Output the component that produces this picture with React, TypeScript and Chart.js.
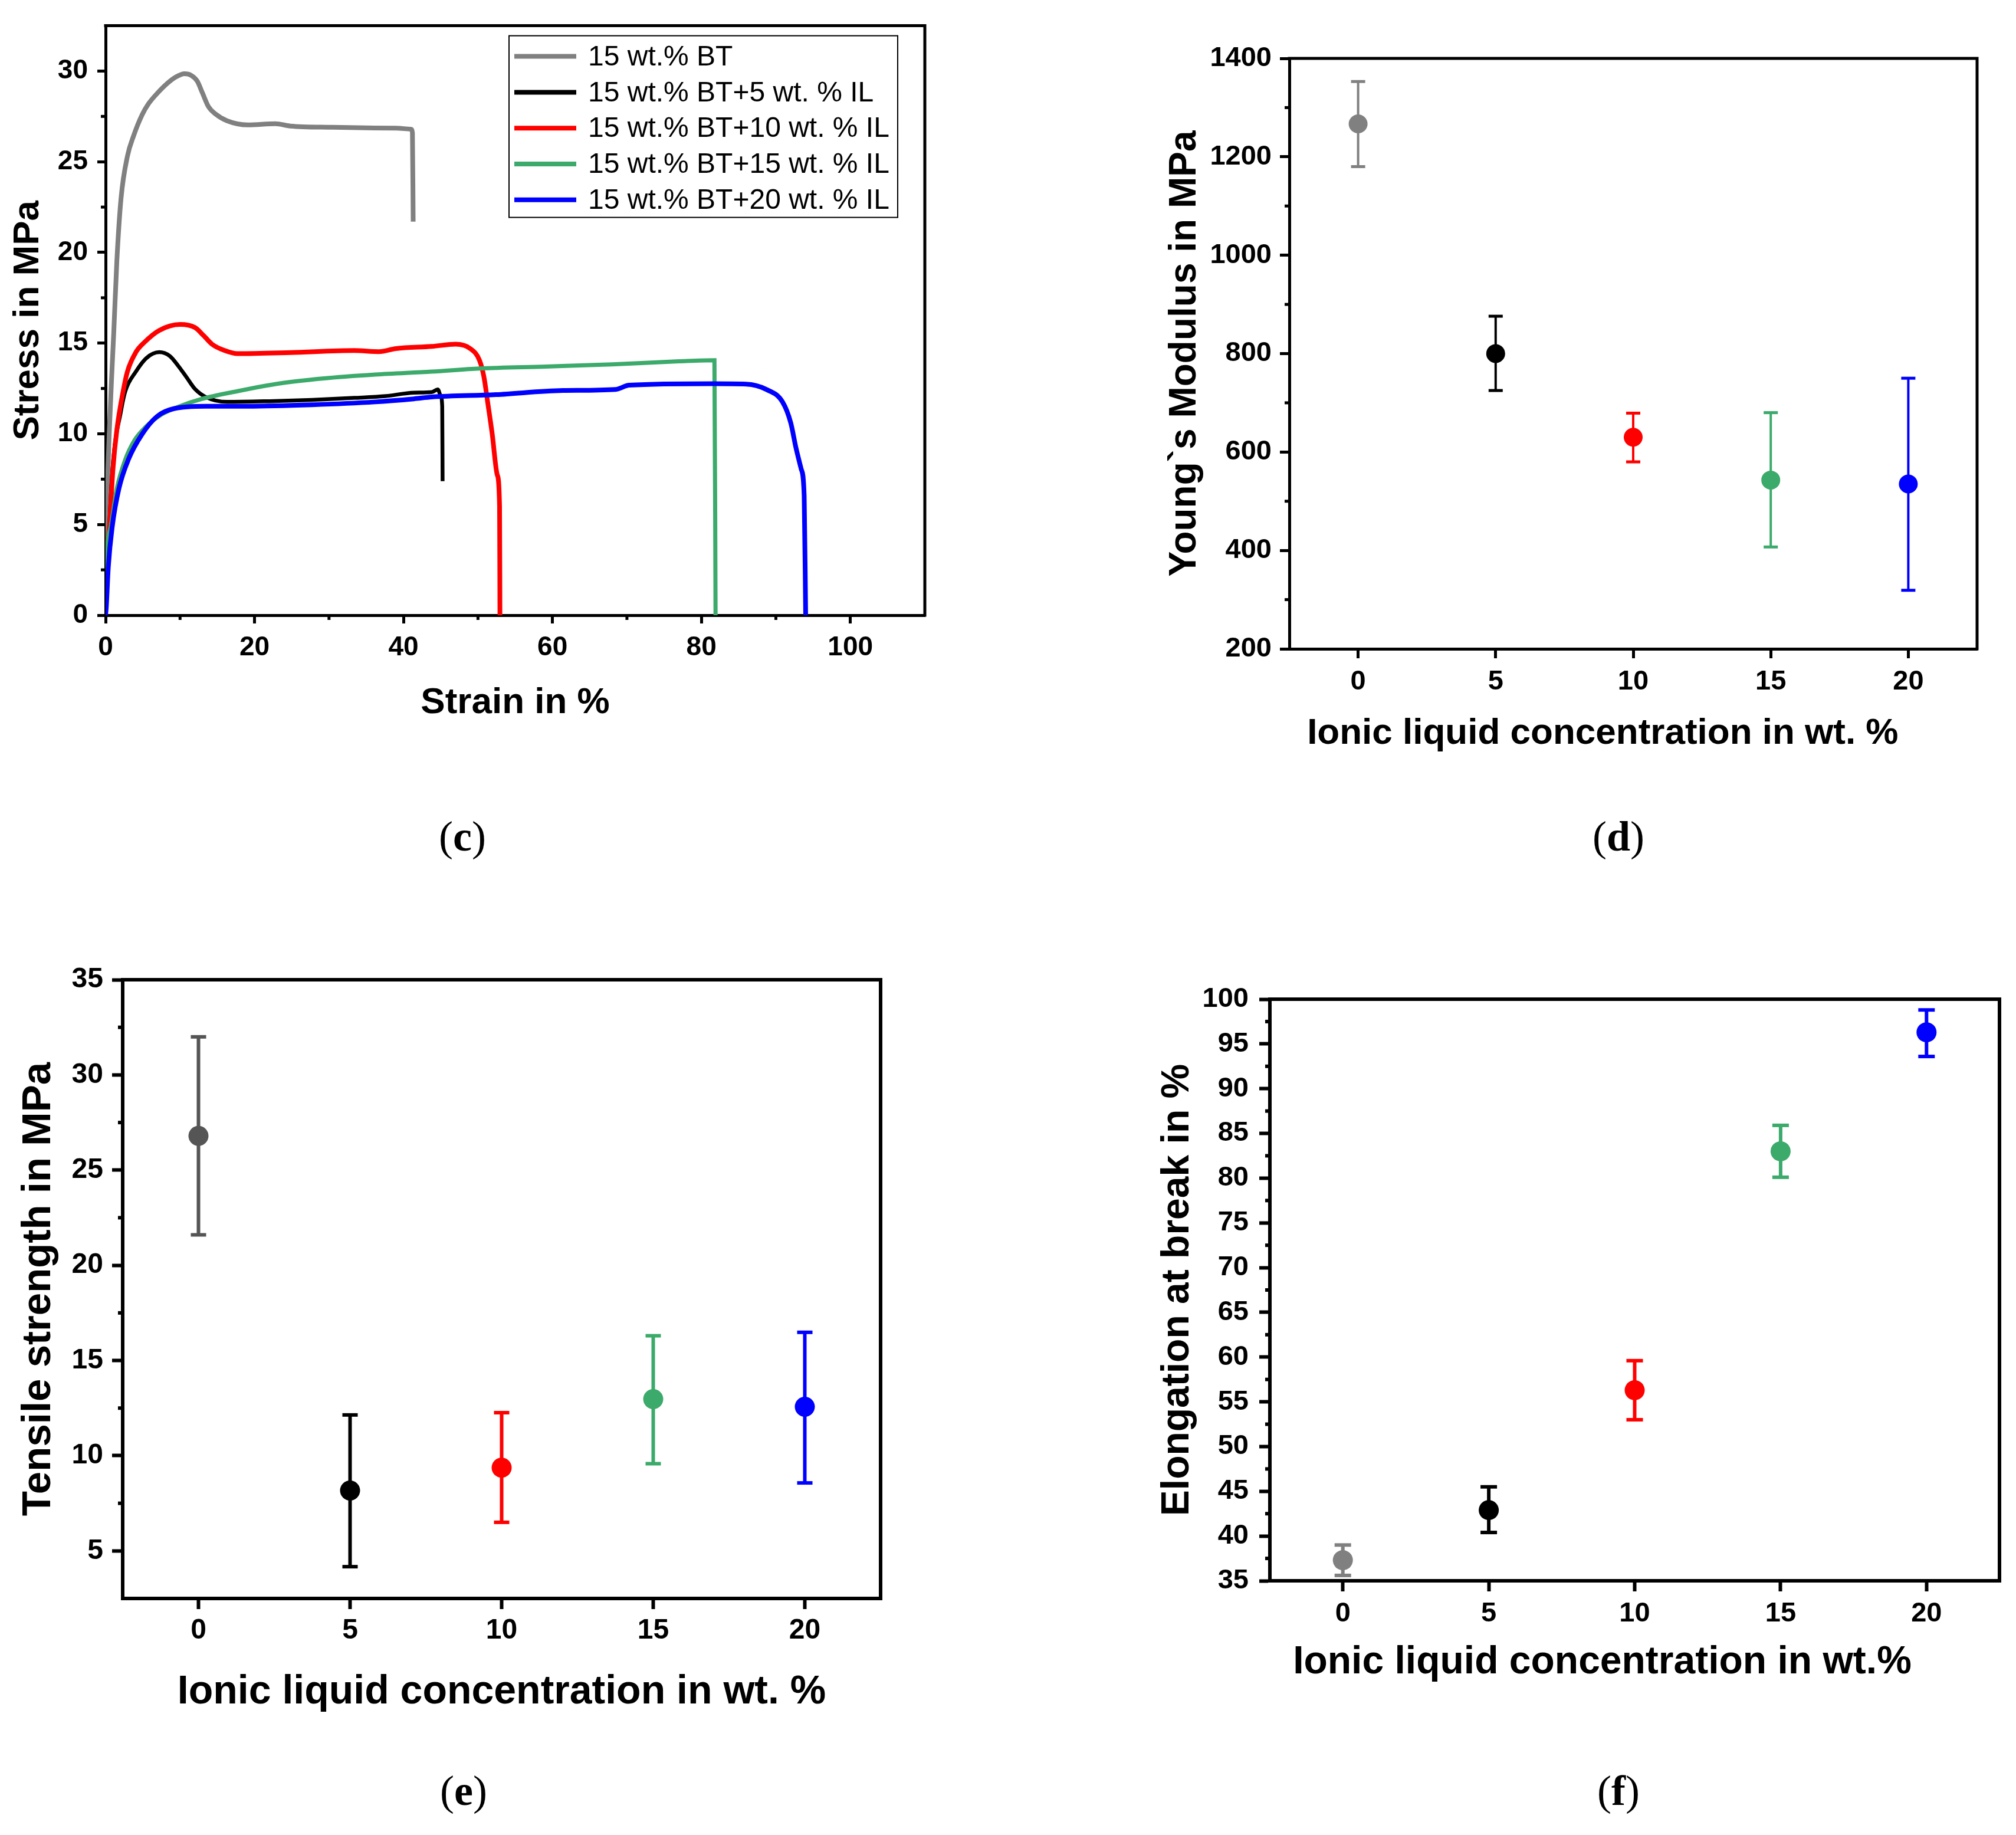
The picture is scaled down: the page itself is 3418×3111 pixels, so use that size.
import { useEffect, useRef } from 'react';
import Chart from 'chart.js/auto';

const SANS = "'Liberation Sans', Arial, sans-serif";
const SERIF = "'Liberation Serif', 'DejaVu Serif', serif";

// (c) stress-strain curves
const STRAIN_BT = [0, 0.09, 0.23, 0.51, 0.8, 1.1, 1.51, 2.08, 2.93, 3.78, 4.92, 5.77, 6.91, 8.34, 9.47, 10.6, 11.5, 12.3, 13.0, 13.8, 14.8, 16.3, 19.1, 22.8, 24.8, 30.5, 35, 39.0, 41.0, 41.2, 41.3];
const STRESS_BT = [0, 4.8, 7.0, 10.2, 13.0, 15.6, 19.5, 23.0, 25.3, 26.45, 27.6, 28.2, 28.76, 29.34, 29.68, 29.85, 29.76, 29.45, 28.8, 28.05, 27.62, 27.26, 27.03, 27.1, 26.97, 26.9, 26.87, 26.85, 26.8, 26.6, 21.7];
const STRAIN_IL5 = [0, 0.4, 0.92, 2.08, 2.65, 4.07, 5.49, 7.2, 8.62, 9.75, 10.9, 12.03, 13.45, 16.3, 22.0, 27.7, 33.4, 37.6, 41.4, 43.8, 44.6, 45.0, 45.2, 45.25];
const STRESS_IL5 = [0, 4.0, 8.06, 11.28, 12.35, 13.43, 14.18, 14.5, 14.29, 13.75, 13.1, 12.46, 12.03, 11.76, 11.8, 11.87, 11.98, 12.08, 12.27, 12.3, 12.45, 12.1, 11.5, 7.39];
const STRAIN_IL10 = [0, 0.05, 0.51, 0.99, 1.51, 2.36, 2.93, 4.07, 5.2, 7.2, 10.0, 12.0, 13.2, 14.3, 16.0, 17.7, 24.8, 33.4, 36.7, 39.0, 43.8, 47.0, 49.0, 50.2, 50.8, 51.3, 51.9, 52.6, 52.9, 52.95];
const STRESS_IL10 = [0, 1.9, 4.84, 8.06, 10.2, 12.35, 13.43, 14.5, 15.04, 15.7, 16.03, 15.86, 15.4, 14.94, 14.59, 14.42, 14.48, 14.59, 14.53, 14.7, 14.82, 14.94, 14.69, 14.06, 13.14, 11.75, 10.03, 7.72, 6.0, 0];
const STRAIN_IL15 = [0, 0.06, 0.66, 1.51, 2.65, 3.93, 5.49, 7.48, 9.75, 12.9, 17.7, 23.4, 29.1, 36.2, 43.8, 50.2, 59.1, 68.0, 77.0, 81.75, 81.9];
const STRESS_IL15 = [0, 2.26, 4.84, 6.98, 8.59, 9.67, 10.42, 11.06, 11.49, 11.92, 12.35, 12.78, 13.05, 13.27, 13.43, 13.6, 13.71, 13.83, 14.0, 14.06, 0];
const STRAIN_IL20 = [0, 0.1, 0.37, 0.88, 1.79, 3.07, 4.92, 6.91, 9.19, 13.45, 19.1, 27.7, 36.2, 41.4, 43.8, 52.4, 61.4, 68.5, 70.3, 81.5, 86.0, 88.7, 90.9, 92.0, 92.7, 93.4, 93.8, 94.0];
const STRESS_IL20 = [0, 0.5, 2.68, 4.84, 6.98, 8.59, 9.99, 10.96, 11.39, 11.52, 11.52, 11.6, 11.76, 11.93, 12.03, 12.16, 12.39, 12.45, 12.68, 12.76, 12.74, 12.45, 11.75, 10.6, 9.22, 8.06, 6.58, 0];

const CURVE_LABELS = ['15 wt.% BT', '15 wt.% BT+5 wt. % IL', '15 wt.% BT+10 wt. % IL', '15 wt.% BT+15 wt. % IL', '15 wt.% BT+20 wt. % IL'];
const CURVE_COLORS = ['#808080', '#000000', '#ff0000', '#3baa6a', '#0000ff'];
const STRAIN_TICKS = [0, 20, 40, 60, 80, 100];
const STRESS_TICKS = [0, 5, 10, 15, 20, 25, 30];

// (d), (e), (f) mean values with error bars
const IL_CONC = [0, 5, 10, 15, 20];
const CONC_TICKS = [0, 5, 10, 15, 20];
const POINT_COLORS = ['#808080', '#000000', '#ff0000', '#3baa6a', '#0000ff'];
const POINT_COLORS_E = ['#555555', '#000000', '#ff0000', '#3baa6a', '#0000ff'];

const MODULUS_MEAN = [1267, 800, 630, 543, 535];
const MODULUS_LOW = [1180, 725, 580, 407, 319];
const MODULUS_HIGH = [1353, 876, 679, 680, 750];
const MODULUS_TICKS = [200, 400, 600, 800, 1000, 1200, 1400];

const TENSILE_MEAN = [26.8, 8.17, 9.37, 12.97, 12.57];
const TENSILE_LOW = [21.6, 4.17, 6.5, 9.58, 8.57];
const TENSILE_HIGH = [32.0, 12.14, 12.26, 16.3, 16.48];
const TENSILE_TICKS = [5, 10, 15, 20, 25, 30, 35];

const ELONG_MEAN = [37.3, 42.9, 56.3, 83.0, 96.3];
const ELONG_LOW = [35.6, 40.4, 53.0, 80.1, 93.6];
const ELONG_HIGH = [39.0, 45.5, 59.6, 85.9, 98.8];
const ELONG_TICKS = [35, 40, 45, 50, 55, 60, 65, 70, 75, 80, 85, 90, 95, 100];

const mids = (t: number[]) => t.slice(1).map((v, i) => (v + t[i]) / 2);
// Origin centres these two x titles a little left of the axis middle
const shiftLeft = (s: string, n: number) => s + '\u00a0'.repeat(n);

type Box = { left: number; top: number; width: number; height: number };

function makeAxis(a: {
  min: number; max: number; ticks: number[]; fit: number; horizontal: boolean;
  title: string; titleSize: number; titlePad: number; font: any;
  tickLength: number; tickPad: number; lineWidth: number;
}) {
  return {
    type: 'linear',
    min: a.min,
    max: a.max,
    afterBuildTicks: (s: any) => { s.ticks = a.ticks.map((value) => ({ value })); },
    afterFit: (s: any) => { if (a.horizontal) s.height = a.fit; else s.width = a.fit; },
    border: { display: true, color: '#000', width: a.lineWidth },
    grid: { display: true, drawOnChartArea: false, drawTicks: true, tickLength: a.tickLength, tickWidth: a.lineWidth, tickColor: '#000' },
    ticks: { font: a.font, color: '#000', padding: a.tickPad, maxRotation: 0, autoSkip: false, callback: (v: number) => String(v) },
    title: {
      display: true, text: a.title, color: '#000',
      font: { family: SANS, weight: 'bold', size: a.titleSize },
      padding: a.horizontal ? { bottom: a.titlePad, top: 0 } : { top: a.titlePad, bottom: 0 },
    },
  };
}

// top/right box lines and the short minor ticks
function framePlugin(o: { width: number; minorLength: number; minor: Record<string, number[]> }) {
  return {
    id: 'frame',
    afterDraw(chart: any) {
      const { ctx, chartArea: a } = chart;
      ctx.save();
      ctx.strokeStyle = '#000';
      ctx.lineWidth = o.width;
      ctx.lineCap = 'square';
      ctx.beginPath();
      ctx.moveTo(a.left, a.top);
      ctx.lineTo(a.right, a.top);
      ctx.lineTo(a.right, a.bottom);
      ctx.stroke();
      ctx.lineCap = 'butt';
      for (const id of Object.keys(o.minor)) {
        const s = chart.scales[id];
        for (const v of o.minor[id]) {
          const p = s.getPixelForValue(v);
          ctx.beginPath();
          if (s.isHorizontal()) {
            ctx.moveTo(p, a.bottom);
            ctx.lineTo(p, a.bottom + o.minorLength);
          } else {
            ctx.moveTo(a.left, p);
            ctx.lineTo(a.left - o.minorLength, p);
          }
          ctx.stroke();
        }
      }
      ctx.restore();
    },
  };
}

const boxLegend = {
  id: 'boxLegend',
  afterDraw(chart: any) {
    const { ctx, chartArea: a } = chart;
    const x0 = a.left + 684;
    const y0 = a.top + 17;
    ctx.save();
    ctx.fillStyle = '#fff';
    ctx.fillRect(x0, y0, 659, 308);
    ctx.strokeStyle = '#000';
    ctx.lineWidth = 2;
    ctx.strokeRect(x0, y0, 659, 308);
    ctx.font = `48px ${SANS}`;
    ctx.textBaseline = 'middle';
    chart.data.datasets.forEach((ds: any, i: number) => {
      const y = y0 + 35 + i * 60.8;
      ctx.strokeStyle = ds.borderColor;
      ctx.lineWidth = 8;
      ctx.beginPath();
      ctx.moveTo(x0 + 9, y);
      ctx.lineTo(x0 + 114, y);
      ctx.stroke();
      ctx.fillStyle = '#000';
      ctx.fillText(ds.label, x0 + 134, y + 2);
    });
    ctx.restore();
  },
};

const baseOptions = (padding: any) => ({
  animation: false,
  responsive: false,
  devicePixelRatio: 1,
  layout: { padding },
  plugins: { legend: { display: false }, tooltip: { enabled: false } },
});

const stressStrainConfig = () => {
  const strains = [STRAIN_BT, STRAIN_IL5, STRAIN_IL10, STRAIN_IL15, STRAIN_IL20];
  const stresses = [STRESS_BT, STRESS_IL5, STRESS_IL10, STRESS_IL15, STRESS_IL20];
  const widths = [8, 6.5, 8, 7, 8];
  const tickFont = { family: SANS, weight: 'bold', size: 46 };
  return {
    type: 'line',
    data: {
      datasets: strains.map((xs, i) => ({
        label: CURVE_LABELS[i],
        data: xs.map((x, j) => ({ x, y: stresses[i][j] })),
        borderColor: CURVE_COLORS[i],
        borderWidth: widths[i],
        pointRadius: 0,
        cubicInterpolationMode: 'monotone',
        order: strains.length - i,
      })),
    },
    options: {
      ...baseOptions({ top: 36, right: 141, bottom: 0, left: 0 }),
      scales: {
        x: makeAxis({ min: 0, max: 110, ticks: STRAIN_TICKS, fit: 257, horizontal: true, title: 'Strain in %', titleSize: 62, titlePad: 71, font: tickFont, tickLength: 14, tickPad: 14, lineWidth: 5 }),
        y: makeAxis({ min: 0, max: 32.5, ticks: STRESS_TICKS, fit: 179, horizontal: false, title: 'Stress in MPa', titleSize: 62, titlePad: 11, font: tickFont, tickLength: 14, tickPad: 16, lineWidth: 5 }),
      },
    },
    plugins: [framePlugin({ width: 5, minorLength: 8, minor: { x: mids(STRAIN_TICKS), y: mids(STRESS_TICKS) } }), boxLegend],
  };
};

function errorConfig(p: {
  mean: number[]; low: number[]; high: number[]; colors: string[];
  yMin: number; yMax: number; yTicks: number[]; yTitle: string; xTitle: string;
  padding: any; yFit: number; xFit: number; yTitleSize: number; xTitleSize: number;
  yTitlePad: number; xTitlePad: number; tickFont: any; tickLength: number;
  yTickPad: number; xTickPad: number; lineWidth: number;
  barWidth: number; capHalf: number; capWidth: number; radius: number;
}) {
  const bars = IL_CONC.map((x, i) => ({
    data: [{ x, y: p.low[i] }, { x, y: p.high[i] }],
    borderColor: p.colors[i],
    borderWidth: p.barWidth,
    pointStyle: 'line',
    pointRadius: p.capHalf,
    pointBorderWidth: p.capWidth,
    pointBorderColor: p.colors[i],
    order: 1,
  }));
  return {
    type: 'line',
    data: {
      datasets: [
        {
          data: IL_CONC.map((x, i) => ({ x, y: p.mean[i] })),
          showLine: false,
          pointRadius: p.radius,
          pointBackgroundColor: p.colors,
          pointBorderWidth: 0,
          order: 0,
        },
        ...bars,
      ],
    },
    options: {
      ...baseOptions(p.padding),
      scales: {
        x: makeAxis({ min: -2.5, max: 22.5, ticks: CONC_TICKS, fit: p.xFit, horizontal: true, title: p.xTitle, titleSize: p.xTitleSize, titlePad: p.xTitlePad, font: p.tickFont, tickLength: p.tickLength, tickPad: p.xTickPad, lineWidth: p.lineWidth }),
        y: makeAxis({ min: p.yMin, max: p.yMax, ticks: p.yTicks, fit: p.yFit, horizontal: false, title: p.yTitle, titleSize: p.yTitleSize, titlePad: p.yTitlePad, font: p.tickFont, tickLength: p.tickLength, tickPad: p.yTickPad, lineWidth: p.lineWidth }),
      },
    },
    plugins: [framePlugin({ width: p.lineWidth, minorLength: 8, minor: { y: mids(p.yTicks) } })],
  };
}

const modulusConfig = () => errorConfig({
  mean: MODULUS_MEAN, low: MODULUS_LOW, high: MODULUS_HIGH, colors: POINT_COLORS,
  yMin: 200, yMax: 1400, yTicks: MODULUS_TICKS,
  yTitle: 'Young`s Modulus in MPa', xTitle: shiftLeft('Ionic liquid concentration in wt. %', 6),
  padding: { top: 99, right: 66, bottom: 0, left: 0 }, yFit: 477, xFit: 200,
  yTitleSize: 64, xTitleSize: 62, yTitlePad: 262, xTitlePad: 19,
  tickFont: { family: SANS, weight: 'bold', size: 47 }, tickLength: 16, yTickPad: 14, xTickPad: 12,
  lineWidth: 5, barWidth: 4, capHalf: 12, capWidth: 5, radius: 16,
});

const tensileConfig = () => errorConfig({
  mean: TENSILE_MEAN, low: TENSILE_LOW, high: TENSILE_HIGH, colors: POINT_COLORS_E,
  yMin: 2.5, yMax: 35, yTicks: TENSILE_TICKS,
  yTitle: 'Tensile strength in MPa', xTitle: 'Ionic liquid concentration in wt. %',
  padding: { top: 101, right: 216, bottom: 0, left: 0 }, yFit: 208, xFit: 401,
  yTitleSize: 69, xTitleSize: 68, yTitlePad: 25, xTitlePad: 201,
  tickFont: { family: SANS, weight: 'bold', size: 48 }, tickLength: 18, yTickPad: 15, xTickPad: 8,
  lineWidth: 6, barWidth: 6, capHalf: 13, capWidth: 6, radius: 17,
});

const elongConfig = () => errorConfig({
  mean: ELONG_MEAN, low: ELONG_LOW, high: ELONG_HIGH, colors: POINT_COLORS,
  yMin: 35, yMax: 100, yTicks: ELONG_TICKS,
  yTitle: 'Elongation at break in %', xTitle: shiftLeft('Ionic liquid concentration in wt.%', 6),
  padding: { top: 134, right: 28, bottom: 0, left: 0 }, yFit: 444, xFit: 431,
  yTitleSize: 66, xTitleSize: 66, yTitlePad: 248, xTitlePad: 253,
  tickFont: { family: SANS, weight: 'bold', size: 47 }, tickLength: 18, yTickPad: 18, xTickPad: 10,
  lineWidth: 6, barWidth: 6, capHalf: 14, capWidth: 6, radius: 17,
});

function Panel({ box, build }: { box: Box; build: () => any }) {
  const ref = useRef<HTMLCanvasElement | null>(null);
  useEffect(() => {
    if (!ref.current) return;
    const chart = new Chart(ref.current, build());
    return () => chart.destroy();
  }, [build]);
  return (
    <canvas
      ref={ref}
      width={box.width}
      height={box.height}
      style={{ position: 'absolute', left: box.left, top: box.top, width: box.width, height: box.height }}
    />
  );
}

function Caption({ x, y, letter }: { x: number; y: number; letter: string }) {
  return (
    <div
      style={{
        position: 'absolute', left: x, top: y, transform: 'translate(-50%, -50%)',
        fontFamily: SERIF, fontSize: 72, lineHeight: 1, color: '#000', whiteSpace: 'nowrap',
      }}
    >
      (<b>{letter}</b>)
    </div>
  );
}

export default function App() {
  return (
    <div style={{ position: 'absolute', left: 0, top: 0, width: 3418, height: 3111, background: '#fff', overflow: 'hidden' }}>
      <Panel box={{ left: 0, top: 0, width: 1709, height: 1300 }} build={stressStrainConfig} />
      <Panel box={{ left: 1709, top: 0, width: 1709, height: 1300 }} build={modulusConfig} />
      <Panel box={{ left: 0, top: 1560, width: 1709, height: 1551 }} build={tensileConfig} />
      <Panel box={{ left: 1709, top: 1560, width: 1709, height: 1551 }} build={elongConfig} />
      <Caption x={784} y={1418} letter="c" />
      <Caption x={2744} y={1418} letter="d" />
      <Caption x={786} y={3036} letter="e" />
      <Caption x={2744} y={3036} letter="f" />
    </div>
  );
}
